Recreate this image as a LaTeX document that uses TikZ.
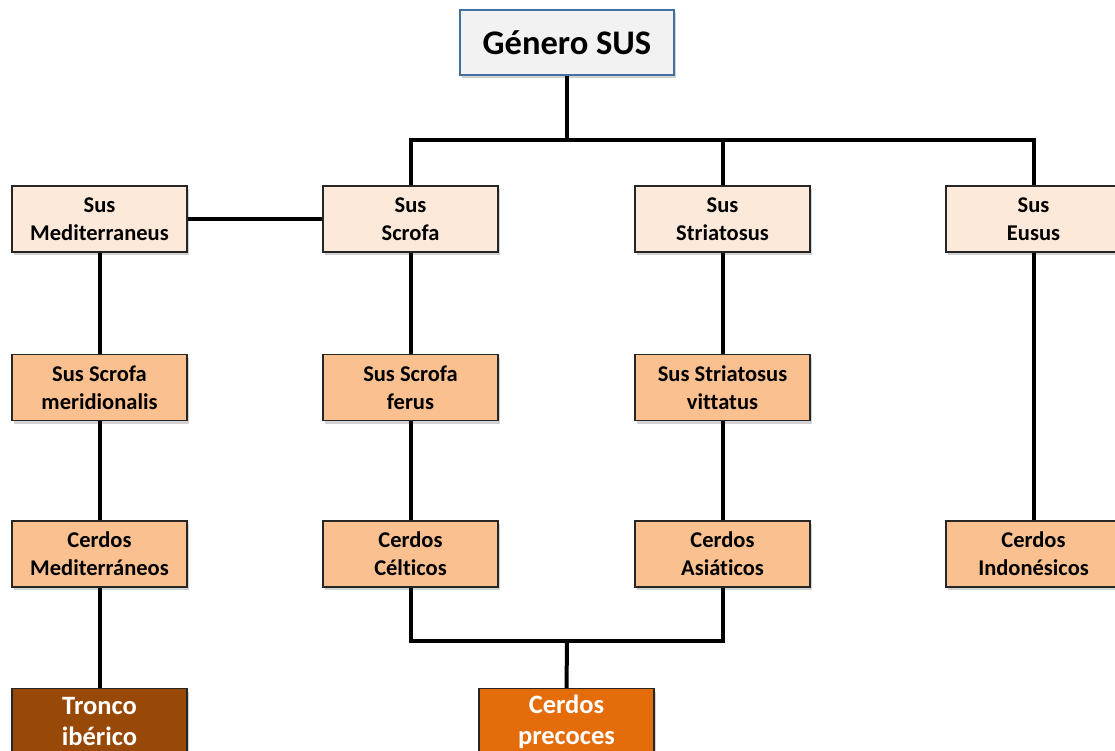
\documentclass[tikz,border=0pt]{standalone}
\usepackage{fontspec}
\setmainfont[Ligatures=CommonOff]{Carlito}
\usetikzlibrary{shadows}
\definecolor{genfill}{HTML}{F2F2F2}
\definecolor{genline}{HTML}{41719C}
\definecolor{susfill}{HTML}{FDE9D9}
\definecolor{razafill}{HTML}{FAC090}
\definecolor{troncofill}{HTML}{984807}
\definecolor{precozfill}{HTML}{E46C0A}
\begin{document}
\begin{tikzpicture}[x=1pt,y=-1pt,
	box/.style={draw=black!85, line width=1.2pt, minimum width=175pt, minimum height=66pt,
		align=center, inner sep=2pt, font=\fontsize{22.5}{28}\selectfont\bfseries,
		drop shadow={shadow xshift=2pt, shadow yshift=-3pt, opacity=0.35}},
	sus/.style={box, fill=susfill},
	raza/.style={box, fill=razafill},
	tronco/.style={box, fill=#1, text=white, font=\fontsize{26.5}{31}\selectfont\bfseries},
	link/.style={line width=4pt, black}]
	\clip (0,0) rectangle (1115,751);
	\fill[white] (0,0) rectangle (1115,751);

	\node[box, fill=genfill, draw=genline, minimum width=214pt, minimum height=65pt,
		font=\fontsize{34.5}{40}\selectfont\bfseries] (genero) at (567,42.5) {Género SUS};

	\node[sus] (mediterraneus) at (99.5,219) {Sus\\Mediterraneus};
	\node[sus] (scrofa) at (410.5,219) {Sus\\Scrofa};
	\node[sus] (striatosus) at (722.5,219) {Sus\\Striatosus};
	\node[sus] (eusus) at (1033.5,219) {Sus\\Eusus};

	\node[raza] (meridionalis) at (99.5,387.5) {Sus Scrofa\\meridionalis};
	\node[raza] (ferus) at (410.5,387.5) {Sus Scrofa\\ferus};
	\node[raza] (vittatus) at (722.5,387.5) {Sus Striatosus\\vittatus};

	\node[raza] (mediterraneos) at (99.5,554) {Cerdos\\Mediterráneos};
	\node[raza] (celticos) at (410.5,554) {Cerdos\\Célticos};
	\node[raza] (asiaticos) at (722.5,554) {Cerdos\\Asiáticos};
	\node[raza] (indonesicos) at (1033.5,554) {Cerdos\\Indonésicos};

	\node[tronco=troncofill] (iberico) at (99.5,721.5) {Tronco\\ibérico};
	\node[tronco=precozfill] (precoces) at (566.5,721.5) {Cerdos\\precoces};

	\coordinate (bar) at (567,140);
	\coordinate (join) at (567,641);

	\draw[link] (genero) -- (bar);
	\draw[link] (scrofa.north) |- (bar) -| (eusus.north);
	\draw[link] (striatosus.north |- bar) -- (striatosus.north);
	\draw[link] (mediterraneus) -- (scrofa);
	\draw[link] (mediterraneus) -- (meridionalis);
	\draw[link] (meridionalis) -- (mediterraneos);
	\draw[link] (mediterraneos) -- (iberico);
	\draw[link] (scrofa) -- (ferus);
	\draw[link] (ferus) -- (celticos);
	\draw[link] (striatosus) -- (vittatus);
	\draw[link] (vittatus) -- (asiaticos);
	\draw[link] (eusus) -- (indonesicos);
	\draw[link] (celticos.south) |- (join) -| (asiaticos.south);
	\draw[link] (join) -- (precoces.north);
\end{tikzpicture}
\end{document}
